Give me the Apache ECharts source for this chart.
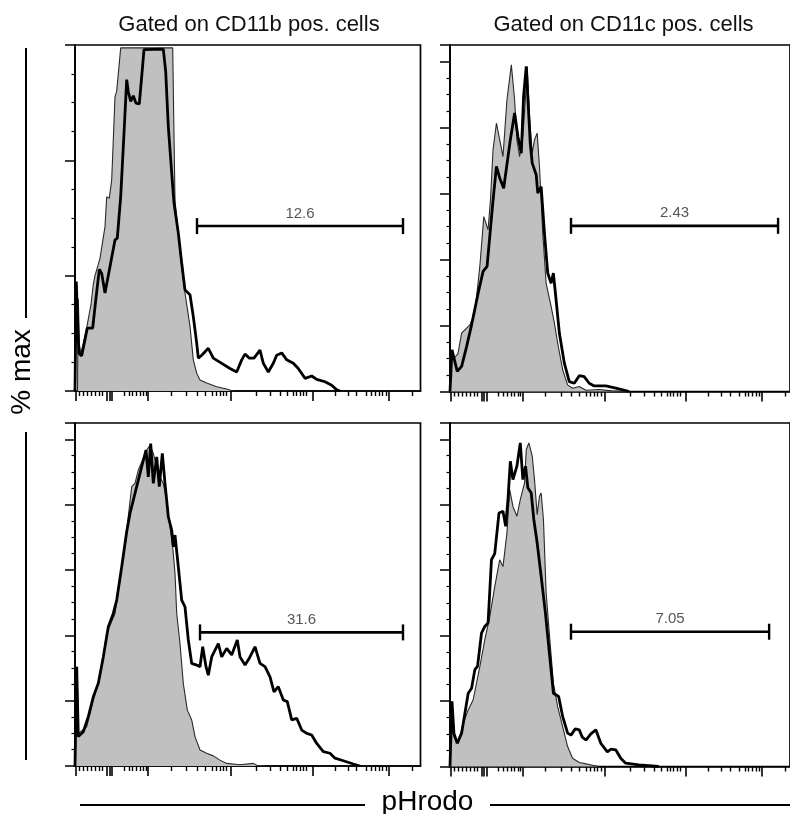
<!DOCTYPE html>
<html><head><meta charset="utf-8">
<script src="https://cdn.jsdelivr.net/npm/echarts@6/dist/echarts.min.js"></script>
<style>html,body{margin:0;padding:0;background:#fff}#c{width:790px;height:814px}</style>
</head><body><div id="c"></div>
<script>
// ---------- data ----------
const titles = ['Gated on CD11b pos. cells', 'Gated on CD11c pos. cells'];
const yAxisName = '% max';
const xAxisName = 'pHrodo';
const gateLabels = ['12.6', '2.43', '31.6', '7.05'];
// [start, end, level(% max)]
const gateRanges = [[122, 328, 28.6], [121.7, 330, 50.2], [125, 328, 40.9], [121.7, 321, 41.2]];
// pHrodo axis tick positions (display channel units)
const xMajorTicks = [1, 32, 34.3, 36.5, 72.7, 156, 237.3, 314];
const xMinorTicks = [4.3, 8.3, 12.3, 16.7, 20, 24, 27.7, 49, 54, 57.7, 61.7, 65, 68.3, 71,
  96, 111.7, 122.3, 130.3, 137, 141, 145, 148.3, 151.7,
  181.7, 195, 205, 212.3, 218.3, 221.7, 225, 228.3, 231.7,
  260, 273.3, 281.7, 291, 296.7, 300, 304.3, 307.7, 311, 337.3];

const p1Gray = [[0,0],[2.5,0],[3.3,16],[4.5,8],[5.7,6.5],[8,8],[11.7,11],[16,15],[18.3,18.5],[20,20],[25,23],[30,28.5],[31.7,33.7],[34.3,33.4],[36.7,36.6],[40,51],[41.7,52],[43.3,55],[45.7,59.5],[97.7,59.5],[98.5,50],[100,33],[106.7,21.5],[110,17],[115,11.2],[118.3,5.4],[121.7,3.1],[125,1.9],[131.7,1.4],[141.7,0.75],[151.7,0.35],[158,0]];
const p1Black = [[0,0],[1,0],[1.3,19],[2.3,19],[3,10],[4,6.5],[6.7,6.1],[12.3,10.9],[17.7,10.9],[20,14.6],[24.3,21.1],[26.7,20.4],[30,17],[35,21.6],[40,26.2],[42.3,26.5],[45.7,33.7],[49,44.7],[51.7,54],[53.3,51.9],[55.7,50.2],[58.3,51.2],[61,49.9],[64.3,49.8],[66.7,54.5],[69,59.2],[71,59.3],[88.3,59.3],[90.7,55.4],[93.3,45.9],[96.7,37.8],[99,32.6],[103.3,27.4],[106.7,22.2],[110,17.5],[115,16.7],[118.3,12.9],[121.7,8.3],[123.3,5.7],[126.7,6.2],[133.3,7.4],[138.3,5.7],[146.7,4.8],[155,3.9],[161.7,3.3],[166.7,5.4],[170,6.4],[174.3,5.7],[179,5.7],[185,7.1],[188.3,4.8],[193.3,3.3],[198.3,4.8],[201.7,6.2],[206.7,6.6],[211.7,5.4],[218.3,4.8],[223.3,3.9],[230,2.2],[236.7,2.6],[241.7,2.0],[250,1.6],[256.7,1.0],[261.7,0.2],[265,0]];

const p2Gray = [[0,0],[1,0],[1.7,12.6],[4,10],[8,11.5],[11.7,17.7],[20,20.2],[25,23.8],[30,37.9],[34,53],[36,53.2],[38.3,49],[40.7,58.1],[43.3,73.2],[46.7,81.3],[50,76.3],[53.3,71.2],[57.3,88.4],[61.7,99],[65,88.4],[67.3,76.3],[70,71.2],[73.3,77.3],[76,89.4],[77.7,98.5],[80,83.3],[82.7,72.2],[85,76.3],[87.7,78.3],[90,68.2],[93.3,48],[96.7,32.8],[101.7,25.8],[105,20.7],[108.3,14.7],[113.3,6.6],[118.3,2],[123.3,1],[130,1.5],[136.7,0.4],[150,0.6],[163,0.2],[176.7,0]];
const p2Black = [[0,0],[1.5,0],[2,12.6],[3.5,12],[7.3,6.1],[11.7,7.6],[16.7,13.6],[21.7,20.2],[28.3,29.8],[33.3,36.4],[37.3,37.9],[42.7,56],[46.7,68.2],[50,64.7],[54,61.6],[56,62.1],[60.7,76.3],[65,84.4],[68.3,77.3],[71.7,72.2],[74,89.4],[76.7,98.5],[78.3,98.7],[80.7,75.3],[82.7,69.2],[86.7,65.7],[88.3,60.1],[91.7,62.1],[95,48],[98.3,35.9],[101.7,32.8],[104,35.9],[106.7,27.8],[110,17.7],[115,8.6],[120,3],[125,2.5],[130,4.8],[135,4.5],[140,2.5],[145,1.7],[156.7,1.7],[166.7,1],[176.7,0.3],[180,0]];

const p3Gray = [[0,0],[1.5,0],[2,30.4],[3,30.4],[3.5,10],[5,10],[11.7,12],[18.3,20.2],[25,27.3],[31.7,40.6],[40,46.7],[45,56.9],[51.7,72.2],[56.7,85.5],[60,86.5],[63.3,90.6],[66.7,93.1],[71.7,96.7],[75,98.2],[78.3,95.7],[81.7,91.6],[85,88.5],[88.3,86.5],[91.7,81.4],[95,73.2],[97.7,67.1],[100,59],[101.7,46.7],[105,37.5],[108.3,25.3],[112.3,17.1],[116.7,14.1],[120,9],[125,4.9],[131.7,3.9],[138.3,3.1],[145,1.8],[151.7,0.8],[165,0.4],[178.3,0.8],[181.7,0.2],[190,0]];
const p3Black = [[0,0],[1.3,0],[1.7,30.4],[2.7,30.4],[3.3,9],[8.3,10.5],[13.3,15.1],[18.3,21.2],[23.3,25.3],[28.3,33.4],[33.3,42.6],[38.3,46.7],[41.7,50.8],[46.7,61],[51.7,71.7],[55,77.3],[58.3,81.4],[63.3,87.5],[66.7,91.6],[71,96.7],[73.3,88.5],[75.7,98.7],[78.3,86.5],[81.7,94.6],[84.3,85.5],[87.3,95.7],[90,86.5],[93.3,76.3],[96.7,72.2],[98.3,67.1],[100,70.7],[103.3,61],[106.7,50.8],[110,48.7],[113.3,38.6],[116.7,31.4],[121.7,30.9],[125,30.4],[127.7,36.5],[131,30.4],[133.3,27.8],[136.7,33.4],[143.3,37.5],[146.7,33.4],[151.7,36],[156.7,34],[162.3,38.6],[165,33.4],[170,30.9],[174.3,33],[180,36.5],[185,31.4],[190,30.4],[195,27.3],[199,22.7],[203.3,24.3],[208.3,20.2],[212.3,19.7],[216.7,14.1],[221.7,14.6],[226.7,11],[231.7,10],[236.7,9.5],[241.7,6.9],[248.3,4.4],[255,3.9],[260,2.4],[268.3,1.6],[278.3,0.6],[285,0]];

const p4Gray = [[0,0],[1.5,0],[2,19.9],[3,19.9],[4,9],[8.3,7.1],[13.3,13.2],[18.3,17.3],[23.3,20.4],[30,30.5],[35,38.7],[40,45.8],[45,55],[50,63.2],[53.3,61.1],[57.3,71.4],[60,84.7],[63.3,79.5],[67.3,76.5],[70.7,81.6],[75,86.7],[76.7,96.9],[79.3,98.9],[82.7,94.9],[85,87.7],[87.7,77],[90,82.6],[91.7,83.6],[94,75.5],[96.7,53],[100.7,37.7],[104,25.5],[108.3,18.3],[113.3,12.2],[118.3,6.1],[123.3,2.5],[130,1.2],[136.7,0.8],[143.3,0.4],[150,0]];
const p4Black = [[0,0],[1.5,0],[2,19.9],[3,19.9],[4,10],[7.3,7.1],[11.7,10.2],[18.3,22.4],[21.7,23.9],[25,29.6],[27.7,30.6],[31.7,40.8],[35,42.8],[38.3,43.9],[41.7,63.2],[45,65.1],[49.3,77.5],[53.3,78],[56,73.4],[58.3,81.6],[60.7,93.3],[63.3,87.7],[67.3,91.8],[70.7,98.9],[73.3,87.7],[76,91.8],[78.3,85.2],[81.7,83.6],[84.3,75.5],[87.7,68.3],[91.7,58.1],[96,46.9],[100,34.6],[104,22.4],[109.3,21.4],[113.3,15.3],[118.3,10.2],[121.7,9.6],[126,11.5],[130,11.2],[133,9],[136.7,8.1],[141.7,10],[146.7,11.2],[151.7,7.1],[158.3,4.5],[162,5.3],[166.7,5.1],[171.7,2.5],[176.7,1],[190,0.5],[203.3,0.2],[210,0]];

// ---------- layout ----------
const FONT = '"Liberation Sans", Arial, Helvetica, sans-serif';
const panels = [
  {left: 75,  top: 45,  width: 345.5, height: 346,   xmax: 345.5, ymax: 60,  gray: p1Gray, black: p1Black},
  {left: 450, top: 45,  width: 342,   height: 346.5, xmax: 342,   ymax: 105, gray: p2Gray, black: p2Black},
  {left: 75,  top: 423, width: 345.5, height: 343,   xmax: 345.5, ymax: 105, gray: p3Gray, black: p3Black},
  {left: 450, top: 423, width: 342,   height: 343.5, xmax: 342,   ymax: 105, gray: p4Gray, black: p4Black}
];

const grid = [], xAxis = [], yAxis = [], series = [];
panels.forEach((p, i) => {
  grid.push({left: p.left, top: p.top, width: p.width, height: p.height, show: true,
    borderColor: '#000', borderWidth: 1.7, backgroundColor: 'transparent'});
  xAxis.push({gridIndex: i, type: 'value', position: 'bottom', min: 0, max: p.xmax,
    axisLine: {show: true, onZero: false, lineStyle: {color: '#000', width: 1.7}},
    axisTick: {show: true, customValues: xMajorTicks, length: 10, lineStyle: {color: '#000', width: 1.6}},
    axisLabel: {show: false}, splitLine: {show: false}});
  xAxis.push({gridIndex: i, type: 'value', position: 'bottom', min: 0, max: p.xmax,
    axisLine: {show: false, onZero: false},
    axisTick: {show: true, customValues: xMinorTicks, length: 5, lineStyle: {color: '#000', width: 1.4}},
    axisLabel: {show: false}, splitLine: {show: false}});
  yAxis.push({gridIndex: i, type: 'value', min: 0, max: p.ymax, interval: 20,
    axisLine: {show: true, onZero: false, lineStyle: {color: '#000', width: 1.7}},
    axisTick: {show: true, length: 10, lineStyle: {color: '#000', width: 1.5}},
    minorTick: {show: true, splitNumber: 4, length: 3.5, lineStyle: {color: '#000', width: 1.2}},
    axisLabel: {show: false}, splitLine: {show: false}, minorSplitLine: {show: false}});
  const xi = i * 2;
  series.push({type: 'line', xAxisIndex: xi, yAxisIndex: i, data: p.gray, showSymbol: false, symbol: 'none',
    lineStyle: {color: '#2a2a2a', width: 1.1}, areaStyle: {color: '#c0c0c0', opacity: 1}, z: 2, silent: true});
  series.push({type: 'line', xAxisIndex: xi, yAxisIndex: i, data: p.black, showSymbol: false, symbol: 'none',
    lineStyle: {color: '#000', width: 2.8}, z: 3, silent: true});
  const g = gateRanges[i];
  series.push({type: 'line', xAxisIndex: xi, yAxisIndex: i, data: [[g[0], g[2]], [g[1], g[2]]],
    symbol: 'rect', symbolSize: [2.4, 16], showSymbol: true, itemStyle: {color: '#000'},
    lineStyle: {color: '#000', width: 2.6}, z: 4, silent: true});
  series.push({type: 'scatter', xAxisIndex: xi, yAxisIndex: i, data: [[(g[0] + g[1]) / 2, g[2]]],
    symbolSize: 0, z: 5, silent: true,
    label: {show: true, position: 'top', distance: 5, formatter: gateLabels[i],
      color: '#2b2b2b', fontSize: 15, fontFamily: FONT}});
  // bind the minor tick axis to an invisible empty series so it is laid out with the grid
  series.push({type: 'line', xAxisIndex: xi + 1, yAxisIndex: i, data: [], silent: true});
});

const chart = echarts.init(document.getElementById('c'), null, {renderer: 'canvas'});
chart.setOption({
  animation: false,
  backgroundColor: '#fff',
  grid, xAxis, yAxis, series,
  graphic: [
    {type: 'text', x: 249, y: 25, style: {text: titles[0], font: '22px ' + FONT, fill: '#111', textAlign: 'center', textVerticalAlign: 'middle'}},
    {type: 'text', x: 623.5, y: 25, style: {text: titles[1], font: '22px ' + FONT, fill: '#111', textAlign: 'center', textVerticalAlign: 'middle'}},
    {type: 'line', shape: {x1: 26, y1: 48, x2: 26, y2: 318}, style: {stroke: '#000', lineWidth: 2}},
    {type: 'line', shape: {x1: 26, y1: 432, x2: 26, y2: 760}, style: {stroke: '#000', lineWidth: 2}},
    {type: 'text', x: 22, y: 372, rotation: Math.PI / 2, style: {text: yAxisName, font: '28px ' + FONT, fill: '#000', textAlign: 'center', textVerticalAlign: 'middle'}},
    {type: 'line', shape: {x1: 80, y1: 805, x2: 365, y2: 805}, style: {stroke: '#000', lineWidth: 2}},
    {type: 'line', shape: {x1: 490, y1: 805, x2: 790, y2: 805}, style: {stroke: '#000', lineWidth: 2}},
    {type: 'text', x: 427.5, y: 802, style: {text: xAxisName, font: '28px ' + FONT, fill: '#000', textAlign: 'center', textVerticalAlign: 'middle'}}
  ]
});
</script></body></html>
